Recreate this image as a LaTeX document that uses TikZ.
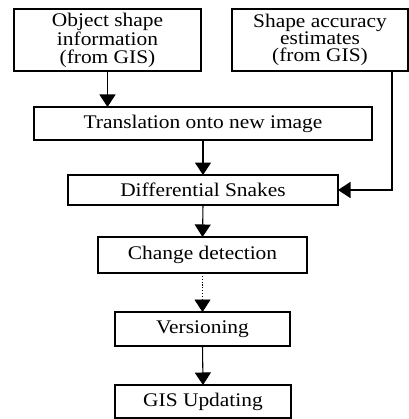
\documentclass[tikz,border=0pt]{standalone}
\usepackage{fontspec}
\setmainfont{Liberation Serif}[FakeStretch=1.11]
\usetikzlibrary{arrows.meta,positioning}

\begin{document}
\begin{tikzpicture}[
    x=0.56pt, y=-0.56pt,
    every node/.style={font=\fontsize{10.8}{9.7}\selectfont},
    stagebox/.style={draw=black, line width=0.7pt, inner sep=0pt, outer sep=0pt, align=center},
    arrow/.style={-{Triangle[length=7pt, width=9pt]}, line width=0.6pt}
]

% Picture frame
\useasboundingbox (0,0) rectangle (409,419);

% Inputs from GIS
\node[stagebox, minimum width=104.7pt, minimum height=34.7pt] (obj) at (107.5,40)
  {Object shape\\information\\(from GIS)};
\node[stagebox, minimum width=98.6pt, minimum height=34.7pt] (acc) at (320,40)
  {Shape accuracy\\estimates\\(from GIS)};

% Processing chain
\node[stagebox, minimum width=189.3pt, minimum height=18.5pt] (transl) at (203,123.5) {Translation onto new image};
\node[stagebox, minimum width=151.2pt, minimum height=16.8pt] (snakes) at (203,190) {Differential Snakes};
\node[stagebox, minimum width=117pt, minimum height=20.2pt] (change) at (202.5,255) {Change detection};
\node[stagebox, minimum width=98pt, minimum height=19pt] (version) at (202.5,329) {Versioning};
\node[stagebox, minimum width=98.6pt, minimum height=18.5pt] (update) at (203,401.5) {GIS Updating};

% Connectors
\draw[arrow] (obj.south) -- (obj.south |- transl.north);
\draw[arrow] (transl.south -| snakes.north) -- (snakes.north);
\draw[arrow] (snakes.south) -- (change.north);
\draw[arrow, densely dotted, line width=0.4pt] (change.south) -- (version.north);
\draw[arrow] (version.south) -- (update.north);

% Accuracy feed into snakes
\coordinate (accturn) at (392,190);
\draw[arrow] (acc.south -| accturn) -- (accturn) -- (snakes.east);

\end{tikzpicture}
\end{document}
